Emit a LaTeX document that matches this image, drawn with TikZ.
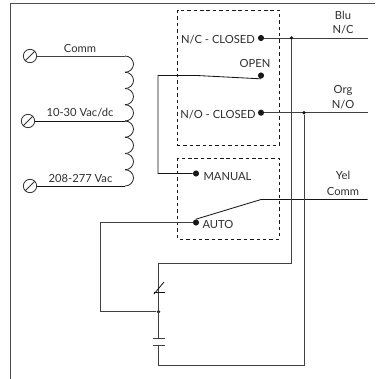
\documentclass[tikz,border=0pt]{standalone}
\usepackage{fontspec}
\setmainfont{Lato}
\tikzset{
  wire/.style={line width=0.72pt,color=black!75},
  thin wire/.style={line width=0.62pt,color=black!92},
  box/.style={line width=0.6pt,dash pattern=on 2.6pt off 2.2pt,color=black!90},
  lab/.style={inner sep=0pt,font=\fontsize{8.4}{10}\selectfont,text=black!82},
  dot/.style={circle,fill=black!90,inner sep=0pt,minimum size=4.6pt},
  joint/.style={circle,fill=black!90,inner sep=0pt,minimum size=2.8pt},
  screw/.style={circle,draw=black!80,line width=0.6pt,inner sep=0pt,minimum size=10pt}
}
\begin{document}
\begin{tikzpicture}[x=0.75pt,y=-0.75pt]
\useasboundingbox(0,0)rectangle(378,379);
%
\coordinate(fa)at(10.5,379);
\coordinate(fb)at(10.5,3.5);
\coordinate(fc)at(375,3.5);
\draw[line width=0.7pt,color=black!70](fa)--(fb)--(fc);
%
\draw[box](177.5,10)rectangle(279.5,145);
\draw[box](177.5,158)rectangle(279.5,239);
%
\node[screw](scomm)at(30,56){};
\node[screw](sten)at(28,121){};
\node[screw](stwo)at(30,186){};
\foreach \s in {scomm,sten,stwo}{
  \draw[line width=0.6pt,color=black!80](\s.south west)--(\s.north east);
}
\coordinate(cta)at(125,56);
\coordinate(ctb)at(125,121);
\coordinate(ctc)at(125,186);
\draw[wire](scomm)--(cta);
\draw[thin wire](sten)--(ctb);
\draw[thin wire](stwo)--(ctc);
\foreach \n in {0,...,7}{
  \draw[line width=0.6pt,color=black!85](125,56+\n*16.25)arc[start angle=-90,end angle=90,x radius=8.5,y radius=8.125];
}
\node[lab](lcomm)at(80,48){Comm};
\node[lab](lten)at(80,113){10-30 Vac/dc};
\node[lab](ltwo)at(80.5,178.5){208-277 Vac};
%
\node[dot](dnc)at(261,38){};
\node[dot](dopen)at(261,75.5){};
\node[dot](dno)at(261,112.7){};
\node[dot](dman)at(196,173.5){};
\node[dot](dauto)at(196,222.5){};
\node[lab](lnc)at(218,39.5){N/C - CLOSED};
\node[lab](lopen)at(255,63.5){OPEN};
\node[lab](lno)at(218,114.5){N/O - CLOSED};
\node[lab](lman)at(227.5,176.5){MANUAL};
\node[lab](lauto)at(218,224.5){AUTO};
%
\node[lab](lblu)at(343,15){Blu};
\node[lab](lbnc)at(343,29.5){N/C};
\node[lab](lorg)at(343,90){Org};
\node[lab](lono)at(343,104.5){N/O};
\node[lab](lyel)at(343,175.5){Yel};
\node[lab](lycm)at(343,191){Comm};
%
\coordinate(enc)at(367.5,38);
\coordinate(eno)at(367.5,112.7);
\coordinate(eyc)at(367.5,199.5);
\coordinate(kyc)at(261,199.5);
\draw[wire](dnc)--(enc);
\draw[wire](dno)--(eno);
\draw[thin wire](dauto.north)--(kyc)--(eyc);
%
\coordinate(oa)at(158,75.5);
\coordinate(ob)at(197,75.5);
\coordinate(oc)at(158,173.5);
\draw[thin wire](dopen.south)--(ob)--(oa)--(oc)--(dman);
%
\node[joint](jnc)at(291.5,38){};
\node[joint](jno)at(304,112.7){};
\node[joint](jmid)at(158.5,311.7){};
\coordinate(ra)at(291.5,263);
\coordinate(rb)at(158.5,263);
\coordinate(pa)at(158.5,338);
\coordinate(pb)at(158.5,345.7);
\coordinate(rc)at(158.5,365);
\coordinate(rd)at(304,365);
\coordinate(aa)at(100,311.7);
\coordinate(ab)at(100,222.5);
\draw[wire](jnc)--(ra)--(rb)--(pa);
\draw[wire](jno)--(rd)--(rc)--(pb);
\draw[wire](jmid)--(aa)--(ab)--(dauto);
%
\draw[wire](153,338)--(165,338);
\draw[wire](153,345.7)--(165,345.7);
\draw[thin wire](153.5,292)--(165,292);
\draw[thin wire](154,294)--(164,282);
\end{tikzpicture}
\end{document}
